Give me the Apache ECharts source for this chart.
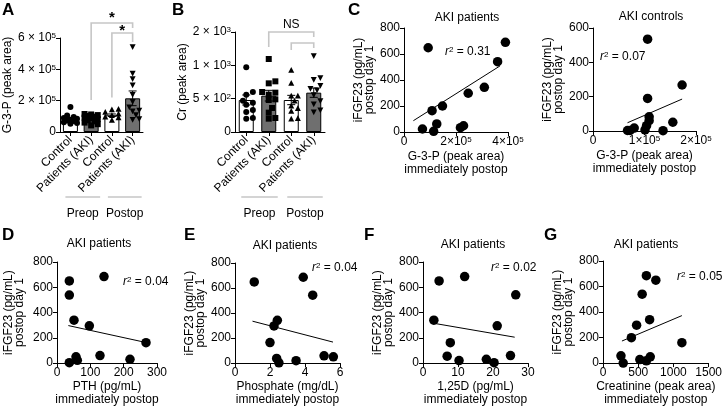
<!DOCTYPE html>
<html><head><meta charset="utf-8">
<script src="https://cdn.jsdelivr.net/npm/echarts@6/dist/echarts.min.js"></script>
<style>html,body{margin:0;padding:0;background:#fff}#c{width:725px;height:407px}</style>
</head><body><div id="c"></div>
<script>
// ---------------- DATA ----------------
const barCategories = ['Control', 'Patients (AKI)', 'Control', 'Patients (AKI)'];
const periodLabels = ['Preop', 'Postop'];

// Panel A: G-3-P (peak area), values in units of 1e5
const g3pCtrlPre  = [1.6, 1.05, 0.95, 0.9, 0.84, 0.78, 0.74, 0.7, 0.63, 0.57, 0.53];
const g3pAkiPre   = [1.15, 1.12, 1.08, 1.02, 0.98, 0.92, 0.88, 0.82, 0.75, 0.68, 0.6, 0.5, 0.42];
const g3pCtrlPost = [1.45, 1.42, 1.25, 1.15, 1.05, 0.95, 0.9, 0.75];
const g3pAkiPost  = [5.45, 3.75, 3.4, 3.0, 2.4, 1.95, 1.6, 1.4, 1.35, 1.1, 0.85, 0.8];
const g3pMean = [0.82, 0.85, 1.07, 2.15];
const g3pSem  = [0.09, 0.07, 0.08, 0.47];
const g3pTicks = [0, 2, 4, 6];

// Panel B: Cr (peak area)
const crCtrlPre  = [970, 600, 560, 470, 440, 410, 330, 300, 210, 200];
const crAkiPre   = [1190, 760, 730, 600, 590, 560, 490, 480, 360, 290, 210, 200];
const crCtrlPost = [925, 730, 540, 540, 465, 390, 350, 310, 200, 195];
const crAkiPost  = [1290, 815, 790, 700, 655, 630, 560, 470, 420, 330, 300];
const crMean = [480, 545, 480, 590];
const crSem  = [75, 80, 70, 70];
const crTickValues = [0, 500, 1000, 2000];
const crTickLabels = ['0', ['5 × 10', '2'], ['1 × 10', '3'], ['2 × 10', '3']];

// Panel C: iFGF23 vs G-3-P (x in units of 1e5)
const cPatG3p = [0.93, 3.9, 3.6, 3.09, 2.47, 1.48, 1.08, 0.71, 1.14, 1.26, 2.17, 2.29];
const cPatFgf = [648, 690, 541, 344, 298, 200, 164, 23, 5, 62, 33, 48];
const cPatFit = [[0.36, 87], [3.69, 508]];
const cCtlG3p = [1.06, 1.73, 1.06, 1.09, 1.09, 1.04, 1.01, 1.55, 1.36, 0.67, 0.72, 0.8];
const cCtlFgf = [535, 268, 190, 83, 60, 31, 6, 51, 2, 3, 3, 17];
const cCtlFit = [[0.67, 48], [1.73, 186]];

// Panel D: PTH
const dPth = [37, 37, 141, 51, 97, 267, 57, 61, 129, 219, 37];
const dFgf = [650, 538, 685, 340, 295, 162, 50, 22, 60, 30, 3];
const dFit = [[34, 297], [267, 163]];
// Panel E: Phosphate
const ePhos = [1.1, 3.9, 4.44, 2.42, 2.23, 2.0, 5.09, 5.62, 2.38, 3.49, 2.51];
const eFgf  = [649, 686, 543, 342, 297, 164, 58, 50, 37, 19, 2];
const eFit  = [[1.0, 335], [5.6, 168]];
// Panel F: 1,25D
const fVitD = [4.6, 11.9, 26.5, 3.1, 21.2, 7.8, 6.9, 10.3, 18.1, 20.3, 25.0];
const fFgf  = [650, 685, 540, 340, 295, 162, 55, 20, 30, 3, 60];
const fFit  = [[3.3, 314], [26.2, 205]];
// Panel G: Creatinine
const gCrea = [616, 750, 556, 662, 477, 403, 1120, 255, 287, 523, 616, 671];
const gFgf  = [685, 650, 540, 340, 297, 199, 160, 57, 0, 28, 18, 49];
const gFit  = [[269, 173], [1120, 372]];

const r2Values = ['0.31', '0.07', '0.04', '0.04', '0.02', '0.05'];

// ---------------- STYLE ----------------
const FONT = '"Liberation Sans", Arial, Helvetica, sans-serif';
const BLACK = '#000';
const GREY_BAR = '#6f6f6f';
const GREY_LINE = '#c6c6c6';
const richSup = {
  n: {fontFamily: FONT, fontSize: 12, color: BLACK},
  s: {fontFamily: FONT, fontSize: 8, color: BLACK, verticalAlign: 'top'}
};
const textBase = {fontFamily: FONT, fontSize: 12, fill: BLACK};

const chart = echarts.init(document.getElementById('c'), null, {renderer: 'canvas'});

// Cr axis is segmented: 0-1000 linear, 1000-2000 compressed into one tick step
const crMap = v => v <= 1000 ? v : 1000 + (v - 1000) / 2;

const grids = [
  {left: 55, top: 38, width: 88, height: 94},
  {left: 235, top: 32, width: 90, height: 100},
  {left: 404, top: 28, width: 104, height: 104},
  {left: 593, top: 28, width: 103, height: 103},
  {left: 57, top: 262, width: 100, height: 103},
  {left: 235, top: 263, width: 105, height: 101},
  {left: 423, top: 262, width: 105, height: 102},
  {left: 603, top: 261, width: 109, height: 103}
];

function axis(gridIndex, o) {
  return {
    gridIndex,
    type: o.type || 'value',
    data: o.data,
    min: o.min, max: o.max, interval: o.interval,
    name: o.name || '', nameLocation: 'middle', nameGap: o.nameGap || 20,
    nameTextStyle: {color: BLACK, fontFamily: FONT, fontSize: 12, lineHeight: o.nameLH || 13},
    axisLine: {show: true, onZero: false, lineStyle: {color: BLACK, width: 1}},
    axisTick: {show: true, length: 4, alignWithLabel: true, lineStyle: {color: BLACK, width: 1}},
    axisLabel: Object.assign({color: BLACK, fontFamily: FONT, fontSize: 12, margin: 4, rich: richSup, formatter: v => String(v)}, o.label || {}),
    splitLine: {show: false},
    boundaryGap: o.type === 'category' ? true : undefined
  };
}
const supFmt = (div, exp, sp) => v => v === 0 ? '0' : '{n|' + (v / div) + (sp ? ' × 10' : '×10') + '}{s|' + exp + '}';

const xAxes = [
  axis(0, {type: 'category', data: barCategories, label: {rotate: 45, interval: 0, margin: 6}}),
  axis(1, {type: 'category', data: barCategories, label: {rotate: 45, interval: 0, margin: 6}}),
  axis(2, {min: 0, max: 4e5, interval: 2e5, label: {formatter: supFmt(1e5, 5, false)}, name: 'G-3-P (peak area)\nimmediately postop', nameGap: 18}),
  axis(3, {min: 0, max: 2e5, interval: 1e5, label: {formatter: supFmt(1e5, 5, false)}, name: 'G-3-P (peak area)\nimmediately postop', nameGap: 18}),
  axis(4, {min: 0, max: 300, interval: 100, name: 'PTH (pg/mL)\nimmediately postop', nameGap: 16}),
  axis(5, {min: 0, max: 6, interval: 2, name: 'Phosphate (mg/dL)\nimmediately postop', nameGap: 15}),
  axis(6, {min: 0, max: 30, interval: 10, name: '1,25D (pg/mL)\nimmediately postop', nameGap: 15}),
  axis(7, {min: 0, max: 1500, interval: 500, name: 'Creatinine (peak area)\nimmediately postop', nameGap: 15})
];
const fgfName = 'iFGF23 (pg/mL)\npostop day 1';
const crFmt = v => {
  const i = crTickValues.map(crMap).indexOf(v);
  const l = crTickLabels[i];
  return Array.isArray(l) ? '{n|' + l[0] + '}{s|' + l[1] + '}' : l;
};
const yAxes = [
  axis(0, {min: 0, max: g3pTicks[3] * 1e5, interval: 2e5, label: {formatter: supFmt(1e5, 5, true)}, name: 'G-3-P (peak area)', nameGap: 36}),
  axis(1, {min: 0, max: crMap(2000), interval: 500, label: {formatter: crFmt}, name: 'Cr (peak area)', nameGap: 44}),
  axis(2, {min: 0, max: 800, interval: 200, name: fgfName, nameGap: 18, nameLH: 11}),
  axis(3, {min: 0, max: 600, interval: 200, name: fgfName, nameGap: 17, nameLH: 11}),
  axis(4, {min: 0, max: 800, interval: 200, name: fgfName, nameGap: 32, nameLH: 11}),
  axis(5, {min: 0, max: 800, interval: 200, name: fgfName, nameGap: 29, nameLH: 11}),
  axis(6, {min: 0, max: 800, interval: 200, name: fgfName, nameGap: 22, nameLH: 11}),
  axis(7, {min: 0, max: 800, interval: 200, name: fgfName, nameGap: 20, nameLH: 11})
];

// ---------- helpers for bar/dot panels ----------
function markerShape(kind, x, y, s) {
  const h = s / 2, style = {fill: BLACK};
  if (kind === 'circle') return {type: 'circle', shape: {cx: x, cy: y, r: h}, style};
  if (kind === 'square') return {type: 'rect', shape: {x: x - h, y: y - h, width: s, height: s}, style};
  if (kind === 'up') return {type: 'polygon', shape: {points: [[x, y - h * 1.1], [x - h, y + h * 0.8], [x + h, y + h * 0.8]]}, style};
  return {type: 'polygon', shape: {points: [[x, y + h * 1.1], [x - h, y - h * 0.8], [x + h, y - h * 0.8]]}, style};
}
// compact beeswarm: offsets limited to the bar width, overlap allowed when crowded
function layoutSwarm(groups, api, size) {
  return groups.map((vals, g) => {
    const pts = vals.map((v, i) => ({i, c: api.coord([g, v])}));
    pts.sort((a, b) => b.c[1] - a.c[1]);
    const placed = [], out = [];
    const step = size * 0.55, need = size * 0.85;
    const offs = [0, step, -step, 2 * step, -2 * step];
    pts.forEach(p => {
      let best = null, bestD = -1;
      for (const o of offs) {
        const x = p.c[0] + o;
        const d = placed.length ? Math.min(...placed.map(q => Math.hypot(q[0] - x, q[1] - p.c[1]))) : 1e9;
        if (d >= need) { best = [x, p.c[1]]; break; }
        if (d > bestD) { bestD = d; best = [x, p.c[1]]; }
      }
      placed.push(best); out[p.i] = best;
    });
    return out;
  });
}
function dotSeries(axisIdx, groupVals, shapes, size) {
  const data = [];
  groupVals.forEach((vals, g) => vals.forEach((v, i) => data.push([g, v, i])));
  return {
    type: 'custom', xAxisIndex: axisIdx, yAxisIndex: axisIdx, z: 3, data, encode: {x: 0, y: 1},
    renderItem(params, api) {
      const ctx = params.context;
      if (!ctx.layout) ctx.layout = layoutSwarm(groupVals, api, size);
      const g = api.value(0), i = api.value(2);
      const p = ctx.layout[g][i];
      return markerShape(shapes[g], p[0], p[1], size);
    }
  };
}
function errSeries(axisIdx, lows, highs) {
  return {
    type: 'custom', xAxisIndex: axisIdx, yAxisIndex: axisIdx, z: 4,
    data: lows.map((l, g) => [g, l, highs[g]]), encode: {x: 0, y: [1, 2]},
    renderItem(params, api) {
      const g = api.value(0);
      const lo = api.coord([g, api.value(1)]), hi = api.coord([g, api.value(2)]);
      const w = 4, st = {stroke: BLACK, lineWidth: 1};
      return {type: 'group', children: [
        {type: 'line', shape: {x1: lo[0], y1: lo[1], x2: hi[0], y2: hi[1]}, style: st},
        {type: 'line', shape: {x1: hi[0] - w, y1: hi[1], x2: hi[0] + w, y2: hi[1]}, style: st},
        {type: 'line', shape: {x1: lo[0] - w, y1: lo[1], x2: lo[0] + w, y2: lo[1]}, style: st}
      ]};
    }
  };
}
function barSeries(axisIdx, means) {
  return {
    type: 'bar', xAxisIndex: axisIdx, yAxisIndex: axisIdx, barWidth: 15, z: 2,
    data: means.map((m, g) => ({value: m, itemStyle: {color: g % 2 ? GREY_BAR : '#fff', borderColor: BLACK, borderWidth: 1}}))
  };
}

const dotShapes = ['circle', 'square', 'up', 'down'];
const e5 = a => a.map(v => v * 1e5);
const series = [
  barSeries(0, e5(g3pMean)),
  dotSeries(0, [g3pCtrlPre, g3pAkiPre, g3pCtrlPost, g3pAkiPost].map(e5), dotShapes, 6),
  errSeries(0, g3pMean.map((m, i) => (m - g3pSem[i]) * 1e5), g3pMean.map((m, i) => (m + g3pSem[i]) * 1e5)),
  barSeries(1, crMean.map(crMap)),
  dotSeries(1, [crCtrlPre, crAkiPre, crCtrlPost, crAkiPost].map(a => a.map(crMap)), dotShapes, 6),
  errSeries(1, crMean.map((m, i) => crMap(m - crSem[i])), crMean.map((m, i) => crMap(m + crSem[i])))
];

const scatterPanels = [
  {ax: 2, x: e5(cPatG3p), y: cPatFgf, fit: cPatFit.map(p => [p[0] * 1e5, p[1]])},
  {ax: 3, x: e5(cCtlG3p), y: cCtlFgf, fit: cCtlFit.map(p => [p[0] * 1e5, p[1]])},
  {ax: 4, x: dPth, y: dFgf, fit: dFit},
  {ax: 5, x: ePhos, y: eFgf, fit: eFit},
  {ax: 6, x: fVitD, y: fFgf, fit: fFit},
  {ax: 7, x: gCrea, y: gFgf, fit: gFit}
];
scatterPanels.forEach(p => {
  series.push({type: 'line', xAxisIndex: p.ax, yAxisIndex: p.ax, data: p.fit, symbol: 'none', lineStyle: {color: BLACK, width: 1}, z: 2});
  series.push({type: 'scatter', xAxisIndex: p.ax, yAxisIndex: p.ax, data: p.x.map((v, i) => [v, p.y[i]]), symbolSize: 9.5, itemStyle: {color: BLACK, opacity: 1}, z: 3});
});

chart.setOption({
  animation: false,
  backgroundColor: '#fff',
  grid: grids,
  xAxis: xAxes,
  yAxis: yAxes,
  series
});

// ---------------- annotations ----------------
const g = [];
const letters = [['A', 2, 10], ['B', 172, 10], ['C', 348, 10], ['D', 2, 235], ['E', 184, 235], ['F', 364, 235], ['G', 544, 235]];
letters.forEach(([t, x, y]) => g.push({type: 'text', x, y, style: {text: t, fontFamily: FONT, fontSize: 17, fontWeight: 'bold', fill: BLACK, textVerticalAlign: 'middle'}}));

const titles = [['AKI patients', 467, 18], ['AKI controls', 651, 17], ['AKI patients', 99, 244], ['AKI patients', 285, 246], ['AKI patients', 473, 245], ['AKI patients', 646, 245]];
titles.forEach(([t, x, y]) => g.push({type: 'text', x, y, style: Object.assign({text: t, textAlign: 'center', textVerticalAlign: 'middle'}, textBase)}));

const r2Pos = [[445, 52], [600, 57], [123, 282], [312, 268], [491, 268], [677, 277]];
r2Pos.forEach(([x, y], i) => g.push({type: 'text', x, y, style: {
  text: '{i|r}{s|2}{n| = ' + r2Values[i] + '}', textVerticalAlign: 'middle',
  rich: {i: {fontFamily: FONT, fontSize: 12, fontStyle: 'italic', fill: BLACK}, s: {fontFamily: FONT, fontSize: 8, fill: BLACK, verticalAlign: 'top'}, n: {fontFamily: FONT, fontSize: 12, fill: BLACK}}
}}));

const px = (ai, pt) => chart.convertToPixel({xAxisIndex: ai, yAxisIndex: ai}, pt);

// significance brackets: [from, to, top, leftEnd, rightEnd, label]
const aBrackets = [[1, 3, 6.96e5, 2.04e5, 6.64e5, '*'], [2, 3, 6.32e5, 2.2e5, 5.74e5, '*']];
const bBrackets = [[1, 3, 2000, 1550, 1850, 'NS'], [2, 3, 1670, 1460, 1520, '']];
function brackets(ai, list, map) {
  list.forEach(([f, t, top, le, re, lab], k) => {
    const a = px(ai, [f, map(top)]), b = px(ai, [t, map(top)]);
    const al = px(ai, [f, map(le)]), br = px(ai, [t, map(re)]);
    g.push({type: 'polyline', shape: {points: [[al[0], al[1]], [a[0], a[1]], [b[0], b[1]], [br[0], br[1]]]}, style: {stroke: GREY_LINE, lineWidth: 1.6, fill: null}});
    if (lab) {
      const star = lab === '*';
      g.push({type: 'text', x: (a[0] + b[0]) / 2, y: a[1] - (star ? (k === 0 ? 5 : 2) : 7), style: {text: lab, textAlign: 'center', textVerticalAlign: 'middle', fontFamily: FONT, fontSize: star ? 15 : 12, fontWeight: star ? 'bold' : 'normal', fill: BLACK}});
    }
  });
}
brackets(0, aBrackets, v => v);
brackets(1, bBrackets, crMap);

// Preop / Postop group labels
[0, 1].forEach(ai => {
  const c = [0, 1, 2, 3].map(i => px(ai, [i, 0])[0]);
  [[c[0] - 5, c[1] + 9], [c[2] - 4, c[3] + 9]].forEach(([x1, x2], k) => {
    g.push({type: 'line', shape: {x1, y1: 197, x2, y2: 197}, style: {stroke: GREY_LINE, lineWidth: 1.6}});
    g.push({type: 'text', x: (x1 + x2) / 2, y: 214, style: Object.assign({text: periodLabels[k], textAlign: 'center', textVerticalAlign: 'middle'}, textBase)});
  });
});

chart.setOption({graphic: g});
</script>
</body></html>
